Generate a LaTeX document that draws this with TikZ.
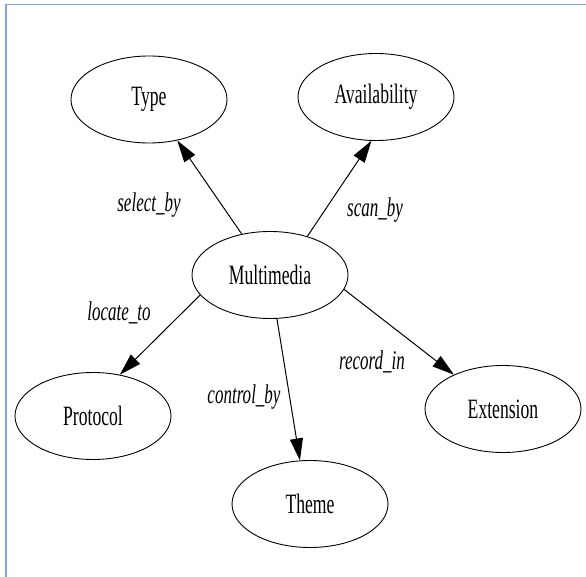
\documentclass[tikz,border=0pt]{standalone}
\usepackage{fontspec}
\setmainfont{Liberation Serif}[FakeStretch=0.63]
\usepackage{tikz}
\usetikzlibrary{shapes.geometric,arrows.meta}
\definecolor{frameblue}{RGB}{126,166,224}

\begin{document}
\begin{tikzpicture}
  [x=1pt, y=-1pt,
   enode/.style={ellipse, draw, line width=0.9pt, minimum width=156pt, minimum height=87pt,
     inner sep=0, font=\fontsize{28}{32}\selectfont},
   elabel/.style={inner sep=0, font=\fontsize{27}{32}\selectfont\itshape},
   arr/.style={line width=1pt, -{Triangle[length=22pt, width=13pt]}}]
  \useasboundingbox (0, 0) rectangle (586, 577);
  \draw[frameblue, line width=1.5pt] (6, 577) -- (6, 4.5) -- (586, 4.5);

  \node[enode] (mm) at (270, 275) {Multimedia};
  \node[enode] (type) at (149, 99.5) {Type};
  \node[enode] (avail) at (376, 97) {Availability};
  \node[enode] (proto) at (93, 416) {Protocol};
  \node[enode] (theme) at (310, 504) {Theme};
  \node[enode] (ext) at (503, 409) {Extension};

  \path (mm) edge [arr] (type);
  \path (mm.46) edge [arr] (avail.264);
  \path (mm.196) edge [arr] (proto.57);
  \path (mm.-81) edge [arr] (theme.103);
  \path (mm.-11) edge [arr] (ext.145);

  \node[elabel] (lselect) at (149, 205) {select\_by};
  \node[elabel] (lscan) at (375, 210) {scan\_by};
  \node[elabel] (llocate) at (119, 313) {locate\_to};
  \node[elabel] (lcontrol) at (244, 397) {control\_by};
  \node[elabel] (lrecord) at (372, 362) {record\_in};
\end{tikzpicture}
\end{document}
